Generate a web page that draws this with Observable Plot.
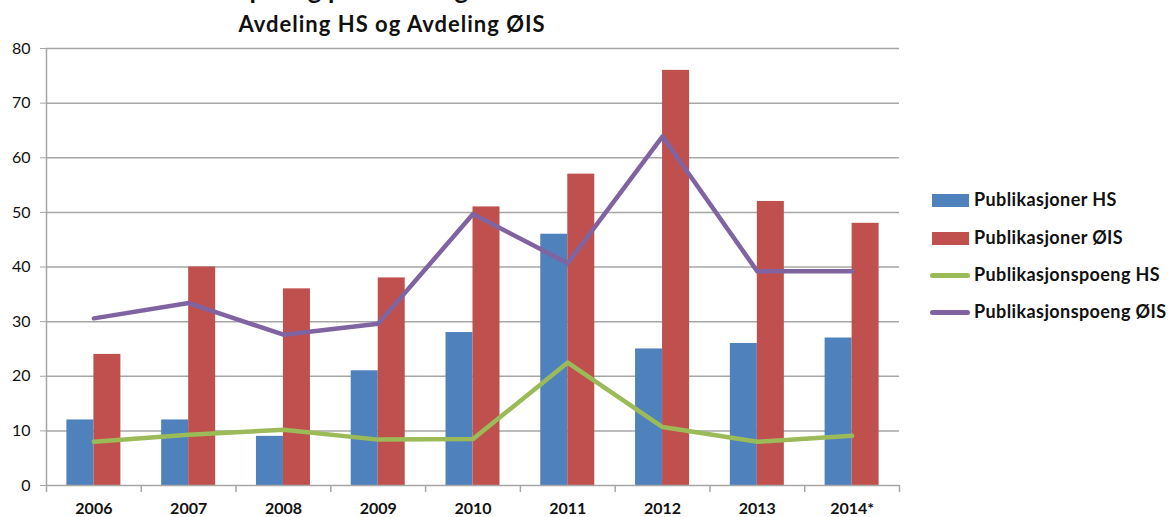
<!DOCTYPE html>
<html><head><meta charset="utf-8">
<script src="https://cdn.jsdelivr.net/npm/d3@7"></script>
<script src="https://cdn.jsdelivr.net/npm/@observablehq/plot@0.6"></script>
<style>
body{margin:0;background:#fff;font-family:Lato,"Open Sans",sans-serif;color:#111}
#wrap{position:relative;width:1172px;height:517px;overflow:hidden}
#wrap svg{position:absolute;left:0;top:0}
.t1{position:absolute;left:175px;top:-24px;font-size:26px;font-weight:bold;line-height:26px;white-space:nowrap}
.t2{position:absolute;left:0;width:784px;text-align:center;top:12.5px;font-size:22px;font-weight:bold;line-height:22px;letter-spacing:1px;white-space:nowrap}
.leg{position:absolute;left:930px;font-size:18px;font-weight:bold;line-height:18px;letter-spacing:0.4px;white-space:nowrap}
.leg .sw{position:absolute;left:0}
.leg .lab{position:absolute;left:44px;top:-10px}
</style></head><body><div id="wrap">
<div class="t1">Antall poeng per avdeling</div>
<div class="t2">Avdeling HS og Avdeling ØIS</div>
</div>
<script>
const years = ["2006","2007","2008","2009","2010","2011","2012","2013","2014*"];
const pubHS = [12,12,9,21,28,46,25,26,27];
const pubOIS = [24,40,36,38,51,57,76,52,48];
const poengHS = [8.0,9.3,10.2,8.4,8.5,22.5,10.7,8.0,9.1];
const poengOIS = [30.6,33.4,27.6,29.6,49.7,40.7,63.9,39.2,39.2];
const yTicks = [0,10,20,30,40,50,60,70,80];
const seriesNames = ["Publikasjoner HS","Publikasjoner ØIS","Publikasjonspoeng HS","Publikasjonspoeng ØIS"];
const colors = ["#4f81bd","#c0504d","#9bbb59","#8064a2"];

const W = 1172, H = 517, mL = 46, mR = 273, mT = 48, mB = 32;
const bw = (W - mL - mR) / years.length;
const barW = 27;
const grid = "#a6a6a6";

const rowsHS = years.map((y,i)=>({year:y, v:pubHS[i]}));
const rowsOIS = years.map((y,i)=>({year:y, v:pubOIS[i]}));
const lineHS = years.map((y,i)=>({year:y, v:poengHS[i]}));
const lineOIS = years.map((y,i)=>({year:y, v:poengOIS[i]}));

const chart = Plot.plot({
  width: W, height: H,
  marginLeft: mL, marginRight: mR, marginTop: mT, marginBottom: mB,
  style: {fontFamily: "Lato, 'Open Sans', sans-serif", background: "#fff", color: "#111"},
  x: {type: "band", domain: years, padding: 0, round: false},
  y: {domain: [0, 80]},
  marks: [
    Plot.ruleY(yTicks.filter(d => d > 0), {stroke: grid, strokeWidth: 1.5}),
    Plot.barY(rowsHS, {x: "year", y: "v", fill: colors[0], insetLeft: bw/2 - barW, insetRight: bw/2}),
    Plot.barY(rowsOIS, {x: "year", y: "v", fill: colors[1], insetLeft: bw/2, insetRight: bw/2 - barW}),
    Plot.ruleY([0], {stroke: grid, strokeWidth: 1.5}),
    Plot.ruleX(years, {x: d => d, dx: -bw/2, stroke: grid, strokeWidth: 1.5, insetTop: H - mT - mB, insetBottom: -7}),
    Plot.ruleX([years[years.length-1]], {x: d => d, dx: bw/2, stroke: grid, strokeWidth: 1.5, insetTop: H - mT - mB, insetBottom: -7}),
    Plot.ruleX([years[0]], {x: d => d, dx: -bw/2, stroke: grid, strokeWidth: 1.5}),
    Plot.lineY(lineHS, {x: "year", y: "v", stroke: colors[2], strokeWidth: 4.5}),
    Plot.lineY(lineOIS, {x: "year", y: "v", stroke: colors[3], strokeWidth: 4.5}),
    Plot.axisY({ticks: yTicks, tickSize: 6, tickPadding: 10, stroke: grid, fill: "#111", fontSize: 16, label: null}),
    Plot.axisX({tickSize: 0, tickPadding: 17, fill: "#111", fontSize: 16, fontWeight: "bold", label: null})
  ]
});
const wrap = document.getElementById("wrap");
wrap.insertBefore(chart, wrap.firstChild);

const rowsY = [200, 238, 275, 312];
seriesNames.forEach((name, i) => {
  const d = document.createElement("div");
  d.className = "leg";
  d.style.top = rowsY[i] + "px";
  const sw = document.createElement("div");
  sw.className = "sw";
  if (i < 2) {
    sw.style.cssText = `left:2px;top:-6px;width:37px;height:13px;background:${colors[i]}`;
  } else {
    sw.style.cssText = `left:0;top:-2.5px;width:40px;height:5px;border-radius:3px;background:${colors[i]}`;
  }
  const lab = document.createElement("div");
  lab.className = "lab";
  lab.textContent = name;
  d.appendChild(sw); d.appendChild(lab);
  wrap.appendChild(d);
});
</script>
</body></html>
